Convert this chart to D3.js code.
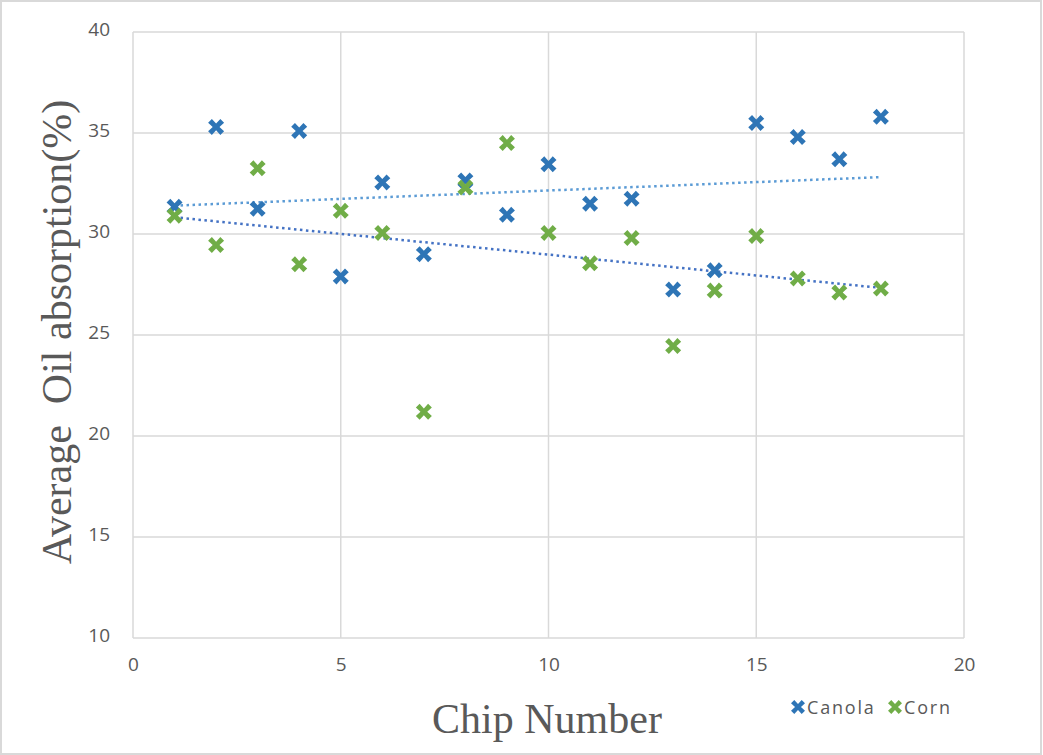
<!DOCTYPE html>
<html><head><meta charset="utf-8">
<script src="https://cdn.jsdelivr.net/npm/d3@7"></script>
<style>body{margin:0;background:#fff}</style>
</head><body>
<svg id="chart" width="1043" height="755"></svg>
<script>
const chips = [1,2,3,4,5,6,7,8,9,10,11,12,13,14,15,16,17,18];
const canola = [31.35,35.3,31.25,35.1,27.9,32.55,29.0,32.65,30.95,33.45,31.5,31.75,27.25,28.2,35.5,34.8,33.7,35.8];
const corn = [30.9,29.45,33.25,28.5,31.15,30.05,21.2,32.3,34.5,30.05,28.55,29.8,24.45,27.2,29.9,27.8,27.1,27.3];
const xTicks = [0,5,10,15,20];
const yTicks = [10,15,20,25,30,35,40];
const seriesNames = ["Canola","Corn"];
const seriesColors = ["#2e75b6","#70ad47"];
const trendColors = ["#5b9bd5","#4472c4"];

const svg = d3.select("#chart");
svg.append("rect").attr("x",1).attr("y",1).attr("width",1040).attr("height",753)
  .attr("fill","#fff").attr("stroke","#d9d9d9").attr("stroke-width",2);

const L=133,R=964,T=32,B=638;
const x = d3.scaleLinear().domain([0,20]).range([L,R]);
const y = d3.scaleLinear().domain([10,40]).range([B,T]);

const g = svg.append("g");
g.selectAll(".vg").data(xTicks).join("line")
  .attr("x1",d=>x(d)).attr("x2",d=>x(d)).attr("y1",T).attr("y2",B)
  .attr("stroke","#d9d9d9").attr("stroke-width",1.5);
g.selectAll(".hg").data(yTicks).join("line")
  .attr("x1",L).attr("x2",R).attr("y1",d=>y(d)).attr("y2",d=>y(d))
  .attr("stroke","#d9d9d9").attr("stroke-width",1.5);

const xAxis = d3.axisBottom(x).tickValues(xTicks).tickSize(0).tickPadding(20);
const yAxis = d3.axisLeft(y).tickValues(yTicks).tickSize(0).tickPadding(23);
const gx = svg.append("g").attr("transform",`translate(0,${B})`).call(xAxis);
const gy = svg.append("g").attr("transform",`translate(${L},0)`).call(yAxis);
[gx,gy].forEach(a=>{
  a.select(".domain").remove();
  a.selectAll("text").attr("fill","#595959").style("font-family","'Open Sans','Liberation Sans',sans-serif").style("font-size","19px");
});
gy.selectAll("text").attr("dy","0.2em");

function fit(xs, ys){
  const n=xs.length, mx=d3.mean(xs), my=d3.mean(ys);
  let sxy=0,sxx=0;
  for(let i=0;i<n;i++){sxy+=(xs[i]-mx)*(ys[i]-my);sxx+=(xs[i]-mx)**2;}
  const b=sxy/sxx, a=my-b*mx;
  return [xs[0],xs[n-1]].map(v=>[v,a+b*v]);
}
const data=[canola,corn];
data.forEach((vals,i)=>{
  const pts=fit(chips,vals);
  svg.append("path").attr("d",d3.line().x(d=>x(d[0])).y(d=>y(d[1]))(pts))
    .attr("fill","none").attr("stroke",trendColors[i]).attr("stroke-width",2.5)
    .attr("stroke-dasharray","2.5,3.5");
});

const xPath = s => { const a=s, w=s*0.47; return `M${-a},${-a+w}L${-a+w},${-a}L0,${-w*0.9}L${a-w},${-a}L${a},${-a+w}L${w*0.9},0L${a},${a-w}L${a-w},${a}L0,${w*0.9}L${-a+w},${a}L${-a},${a-w}L${-w*0.9},0Z`; };
data.forEach((vals,i)=>{
  svg.append("g").selectAll("path").data(chips).join("path")
    .attr("transform",(d,j)=>`translate(${x(d)},${y(vals[j])})`)
    .attr("d",xPath(8)).attr("fill",seriesColors[i]);
});

svg.append("text").attr("x",547).attr("y",733).attr("text-anchor","middle")
  .attr("fill","#595959").style("font-family","'Liberation Serif','Times New Roman',serif").style("font-size","42px")
  .text("Chip Number");
svg.append("text").attr("transform",`translate(71,332) rotate(-90)`).attr("text-anchor","middle")
  .attr("fill","#595959").style("font-family","'Liberation Serif','Times New Roman',serif").style("font-size","42px")
  .style("white-space","pre").text("Average  Oil absorption(%)");

const leg = svg.append("g").attr("transform","translate(0,707)");
const legX=[798,895];
seriesNames.forEach((n,i)=>{
  leg.append("path").attr("transform",`translate(${legX[i]},0)`).attr("d",xPath(7)).attr("fill",seriesColors[i]);
  leg.append("text").attr("x",legX[i]+9).attr("y",7).attr("fill","#595959")
    .style("font-family","'Open Sans','Liberation Sans',sans-serif").style("font-size","18px")
    .style("letter-spacing","1.8px").text(n);
});
</script>
</body></html>
